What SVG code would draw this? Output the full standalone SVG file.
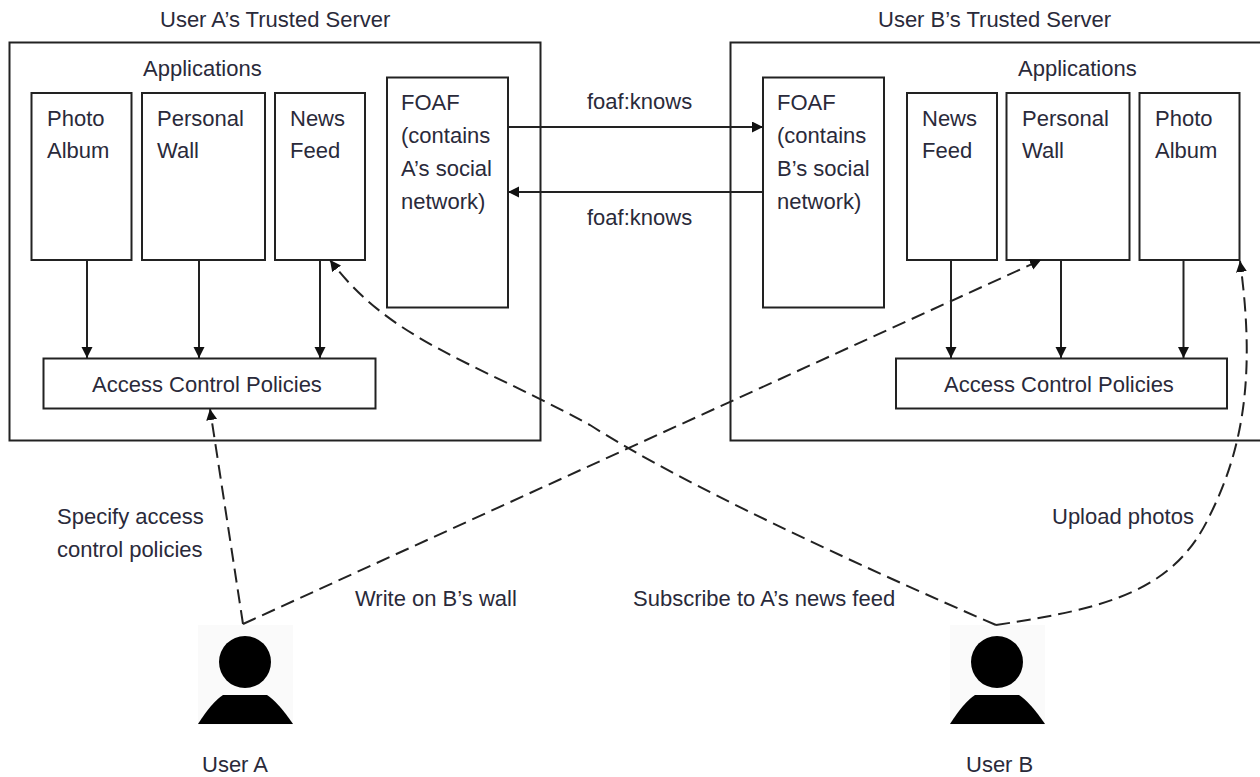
<svg xmlns="http://www.w3.org/2000/svg" width="1260" height="777" viewBox="0 0 1260 777">
<style>
text{font-family:"Liberation Sans",Arial,sans-serif;font-size:22px;fill:#2a2a3a}
.b{fill:#fff;stroke:#222;stroke-width:2}
.c{fill:none;stroke:#222;stroke-width:2;marker-end:url(#a)}
.d{fill:none;stroke:#222;stroke-width:2;stroke-dasharray:14 7;marker-end:url(#a)}
</style>
<defs>
<marker id="a" markerUnits="userSpaceOnUse" markerWidth="12" markerHeight="12" refX="11" refY="5.500" orient="auto"><path d="M0 0L11 5.500L0 11z" fill="#111"/></marker>
<g id="person"><rect x="0" y="0" width="95" height="100" fill="#fafafa"/><circle cx="47" cy="37" r="26" fill="#000"/><path d="M0 99Q14 77 25 70H69Q80 77 95 99z" fill="#000"/></g>
</defs>
<rect width="1260" height="777" fill="#fff"/>
<g id="serverA"><rect class="b" x="9.500" y="42.500" width="531" height="398"/><text x="160" y="27">User A’s Trusted Server</text><text x="143" y="76">Applications</text></g>
<g id="serverB"><rect class="b" x="730.500" y="42.500" width="540" height="398"/><text x="878" y="27">User B’s Trusted Server</text><text x="1018" y="76">Applications</text></g>
<g id="a-photo"><rect class="b" x="31.500" y="93" width="100" height="167"/><text x="47" y="126">Photo</text><text x="47" y="158">Album</text></g>
<g id="a-wall"><rect class="b" x="142" y="93" width="123" height="167"/><text x="157" y="126">Personal</text><text x="157" y="158">Wall</text></g>
<g id="a-news"><rect class="b" x="275" y="93" width="90" height="167"/><text x="290" y="126">News</text><text x="290" y="158">Feed</text></g>
<g id="a-foaf"><rect class="b" x="387" y="77.500" width="121" height="230"/><text x="401" y="110">FOAF</text><text x="401" y="143">(contains</text><text x="401" y="176">A’s social</text><text x="401" y="209">network)</text></g>
<g id="a-acp"><rect class="b" x="43.500" y="358.500" width="332" height="50"/><text x="92" y="392">Access Control Policies</text></g>
<g id="b-foaf"><rect class="b" x="763" y="77.500" width="121" height="230"/><text x="777" y="110">FOAF</text><text x="777" y="143">(contains</text><text x="777" y="176">B’s social</text><text x="777" y="209">network)</text></g>
<g id="b-news"><rect class="b" x="907" y="93" width="90" height="167"/><text x="922" y="126">News</text><text x="922" y="158">Feed</text></g>
<g id="b-wall"><rect class="b" x="1006.500" y="93" width="123" height="167"/><text x="1022" y="126">Personal</text><text x="1022" y="158">Wall</text></g>
<g id="b-photo"><rect class="b" x="1139.500" y="93" width="100" height="167"/><text x="1155" y="126">Photo</text><text x="1155" y="158">Album</text></g>
<g id="b-acp"><rect class="b" x="896" y="358.500" width="331" height="50"/><text x="944" y="392">Access Control Policies</text></g>
<g id="userA"><use href="#person" x="198" y="625"/><text x="202" y="772">User A</text></g>
<g id="userB"><use href="#person" x="950" y="625"/><text x="966" y="772">User B</text></g>
<g id="connectors">
<path class="c" d="M87 260V358"/><path class="c" d="M199 260V358"/><path class="c" d="M320 260V358"/>
<path class="c" d="M951 260V358"/><path class="c" d="M1061 260V358"/><path class="c" d="M1183.500 260V358"/>
<path class="c" d="M508 127H763"/><path class="c" d="M763 192H508"/>
<path class="d" d="M243 624L210 409"/>
<path class="d" d="M243 624L1041 260"/>
<path class="d" d="M996 625C800 540 660 470 590 425C470 360 390 340 330 260"/>
<path class="d" d="M996 625C1110 608 1175 590 1210 515C1245 445 1255 370 1240 261"/>
</g>
<g id="labels">
<text x="587" y="109">foaf:knows</text><text x="587" y="225">foaf:knows</text>
<text x="57" y="524">Specify access</text><text x="57" y="557">control policies</text>
<text x="355" y="606">Write on B’s wall</text><text x="633" y="606">Subscribe to A’s news feed</text><text x="1052" y="524">Upload photos</text>
</g>
</svg>
